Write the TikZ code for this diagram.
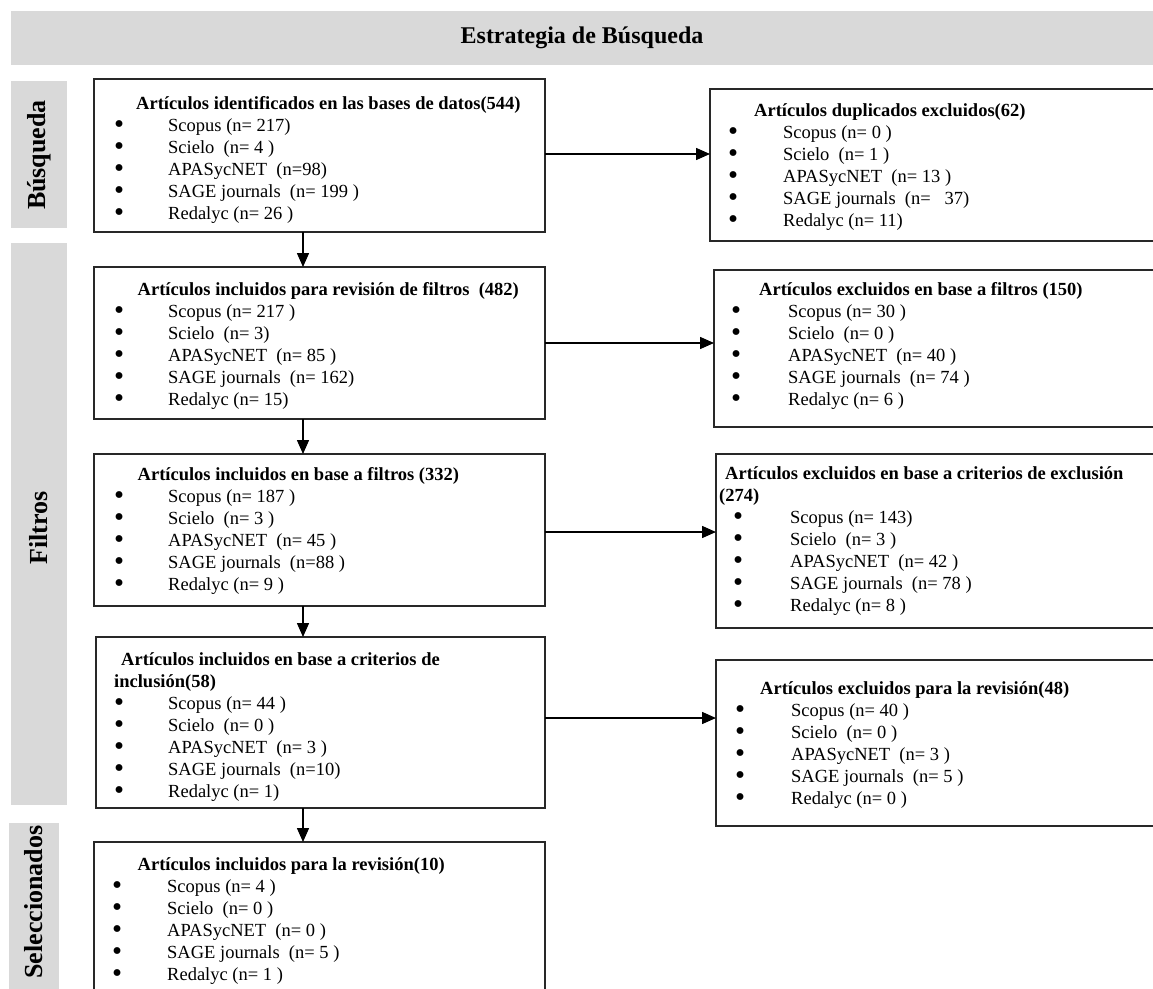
\documentclass[tikz,border=0pt]{standalone}
\usepackage{fontspec}
\setmainfont{Liberation Serif}
\usetikzlibrary{arrows.meta}
\definecolor{bandgray}{RGB}{217,217,217}
\definecolor{linecol}{RGB}{40,40,40}
\newcommand{\fs}{\fontsize{18.5}{22}\selectfont\raggedright}
\newcommand{\hd}[2]{\hspace*{#1}\textbf{#2}\par}
\newcommand{\bigbul}{\smash{\raisebox{-0.15em}{\scalebox{1.55}{\textbullet}}}}
\newcommand{\bl}[3]{\hspace*{#1}\makebox[#2][l]{\bigbul}#3\par}
\newcommand{\pb}[1]{\parbox[t]{600pt}{\fs #1}}
\begin{document}
\begin{tikzpicture}[x=1pt,y=-1pt,
  box/.style={draw=linecol, line width=1.5pt, anchor=north west, inner sep=0pt, outer sep=0pt},
  band/.style={fill=bandgray, draw=none, anchor=north west, inner sep=0pt, outer sep=0pt},
  txt/.style={anchor=base west, inner sep=0pt},
  arr/.style={draw=black, line width=1.5pt, -{Triangle[length=14pt,width=12pt]}},
  side/.style={rotate=90, inner sep=0pt, font=\fontsize{26}{26}\selectfont\bfseries}
]
\clip (0,0) rectangle (1153,988);
\fill[white] (0,0) rectangle (1153,988);

% title band
\node[band, minimum width=1142pt, minimum height=54pt, font=\fontsize{24}{24}\selectfont\bfseries] (T) at (11,11) {Estrategia de Búsqueda};

% side bands
\node[band, minimum width=56pt, minimum height=147pt] (S1) at (11,81) {};
\node[band, minimum width=56pt, minimum height=562pt] (S2) at (11,243) {};
\node[band, minimum width=50pt, minimum height=170pt] (S3) at (9,823) {};
\node[side] (S1t) at (39,155) {Búsqueda};
\node[side] (S2t) at (39,528) {Filtros};
\node[side] (S3t) at (34,902) {Seleccionados};

% left boxes
\node[box, minimum width=451pt, minimum height=153pt] (L1) at (94,79) {};
\node[box, minimum width=451pt, minimum height=152pt] (L2) at (94,267) {};
\node[box, minimum width=451pt, minimum height=152pt] (L3) at (94,454) {};
\node[box, minimum width=449pt, minimum height=171pt] (L4) at (96,637) {};
\node[box, minimum width=451pt, minimum height=170pt] (L5) at (94,842) {};

% right boxes
\node[box, minimum width=450pt, minimum height=152pt] (R1) at (710,89) {};
\node[box, minimum width=446pt, minimum height=157pt] (R2) at (714,270) {};
\node[box, minimum width=444pt, minimum height=174pt] (R3) at (716,454) {};
\node[box, minimum width=444pt, minimum height=166pt] (R4) at (716,660) {};

% texts
\node[txt] (L1t) at (94,109) {\pb{%
\hd{42pt}{Artículos identificados en las bases de datos(544)}
\bl{20pt}{54pt}{Scopus (n= 217)}
\bl{20pt}{54pt}{Scielo\ \ (n= 4 )}
\bl{20pt}{54pt}{APASycNET\ \ (n=98)}
\bl{20pt}{54pt}{SAGE journals\ \ (n= 199 )}
\bl{20pt}{54pt}{Redalyc (n= 26 )}}};

\node[txt] (R1t) at (710,116) {\pb{%
\hd{44pt}{Artículos duplicados excluidos(62)}
\bl{18pt}{55pt}{Scopus (n= 0 )}
\bl{18pt}{55pt}{Scielo\ \ (n= 1 )}
\bl{18pt}{55pt}{APASycNET\ \ (n= 13 )}
\bl{18pt}{55pt}{SAGE journals\ \ (n=\ \ \ 37)}
\bl{18pt}{55pt}{Redalyc (n= 11)}}};

\node[txt] (L2t) at (94,295) {\pb{%
\hd{43.5pt}{Artículos incluidos para revisión de filtros\ \ (482)}
\bl{20pt}{54pt}{Scopus (n= 217 )}
\bl{20pt}{54pt}{Scielo\ \ (n= 3)}
\bl{20pt}{54pt}{APASycNET\ \ (n= 85 )}
\bl{20pt}{54pt}{SAGE journals\ \ (n= 162)}
\bl{20pt}{54pt}{Redalyc (n= 15)}}};

\node[txt] (R2t) at (714,295) {\pb{%
\hd{45pt}{Artículos excluidos en base a filtros (150)}
\bl{17pt}{57pt}{Scopus (n= 30 )}
\bl{17pt}{57pt}{Scielo\ \ (n= 0 )}
\bl{17pt}{57pt}{APASycNET\ \ (n= 40 )}
\bl{17pt}{57pt}{SAGE journals\ \ (n= 74 )}
\bl{17pt}{57pt}{Redalyc (n= 6 )}}};

\node[txt] (L3t) at (94,480) {\pb{%
\hd{43.5pt}{Artículos incluidos en base a filtros (332)}
\bl{20pt}{54pt}{Scopus (n= 187 )}
\bl{20pt}{54pt}{Scielo\ \ (n= 3 )}
\bl{20pt}{54pt}{APASycNET\ \ (n= 45 )}
\bl{20pt}{54pt}{SAGE journals\ \ (n=88 )}
\bl{20pt}{54pt}{Redalyc (n= 9 )}}};

\node[txt] (R3t) at (716,479) {\pb{%
\hd{9pt}{Artículos excluidos en base a criterios de exclusión}
\hd{3pt}{(274)}
\bl{17pt}{57pt}{Scopus (n= 143)}
\bl{17pt}{57pt}{Scielo\ \ (n= 3 )}
\bl{17pt}{57pt}{APASycNET\ \ (n= 42 )}
\bl{17pt}{57pt}{SAGE journals\ \ (n= 78 )}
\bl{17pt}{57pt}{Redalyc (n= 8 )}}};

\node[txt] (L4t) at (96,665) {\pb{%
\hd{25pt}{Artículos incluidos en base a criterios de}
\hd{18pt}{inclusión(58)}
\bl{18pt}{54pt}{Scopus (n= 44 )}
\bl{18pt}{54pt}{Scielo\ \ (n= 0 )}
\bl{18pt}{54pt}{APASycNET\ \ (n= 3 )}
\bl{18pt}{54pt}{SAGE journals\ \ (n=10)}
\bl{18pt}{54pt}{Redalyc (n= 1)}}};

\node[txt] (R4t) at (716,694) {\pb{%
\hd{44pt}{Artículos excluidos para la revisión(48)}
\bl{19pt}{56pt}{Scopus (n= 40 )}
\bl{19pt}{56pt}{Scielo\ \ (n= 0 )}
\bl{19pt}{56pt}{APASycNET\ \ (n= 3 )}
\bl{19pt}{56pt}{SAGE journals\ \ (n= 5 )}
\bl{19pt}{56pt}{Redalyc (n= 0 )}}};

\node[txt] (L5t) at (94,870) {\pb{%
\hd{43.5pt}{Artículos incluidos para la revisión(10)}
\bl{18pt}{55pt}{Scopus (n= 4 )}
\bl{18pt}{55pt}{Scielo\ \ (n= 0 )}
\bl{18pt}{55pt}{APASycNET\ \ (n= 0 )}
\bl{18pt}{55pt}{SAGE journals\ \ (n= 5 )}
\bl{18pt}{55pt}{Redalyc (n= 1 )}}};

% vertical arrows
\draw[arr] ([xshift=209pt]L1.south west) -- ([xshift=209pt]L2.north west);
\draw[arr] ([xshift=209pt]L2.south west) -- ([xshift=209pt]L3.north west);
\draw[arr] ([xshift=209pt]L3.south west) -- ([xshift=207pt]L4.north west);
\draw[arr] ([xshift=207pt]L4.south west) -- ([xshift=209pt]L5.north west);

% horizontal arrows
\draw[arr] ([yshift=1.5pt]L1.east) -- ([yshift=1.5pt]L1.east -| R1.west);
\draw[arr] (L2.east) -- (L2.east -| R2.west);
\draw[arr] ([yshift=-2pt]L3.east) -- ([yshift=-2pt]L3.east -| R3.west);
\draw[arr] ([yshift=4.5pt]L4.east) -- ([yshift=4.5pt]L4.east -| R4.west);
\end{tikzpicture}
\end{document}
